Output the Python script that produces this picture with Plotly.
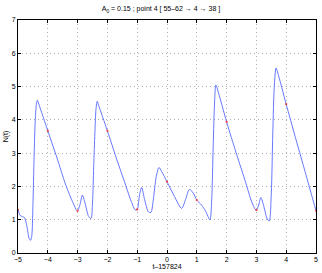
import plotly.graph_objects as go

# curve samples (t - 157824, N(t))
t_vals = [-5.0, -4.93, -4.85, -4.78, -4.7, -4.63, -4.58, -4.54, -4.5, -4.46, -4.42, -4.38, -4.35, -4.3,
          -4.0, -3.7, -3.4, -3.15, -3.03, -3.0, -2.92, -2.84, -2.75, -2.63, -2.55, -2.5, -2.46, -2.42,
          -2.38, -2.34, -2.3, -2.0, -1.7, -1.45, -1.2, -1.06, -1.0, -0.92, -0.85, -0.75, -0.62, -0.54,
          -0.46, -0.36, -0.27, -0.18, 0.0, 0.25, 0.49, 0.62, 0.75, 0.88, 1.0, 1.16, 1.3, 1.44, 1.5,
          1.55, 1.6, 1.64, 1.7, 2.0, 2.32, 2.65, 2.84, 2.97, 3.0, 3.08, 3.15, 3.25, 3.35, 3.43, 3.5,
          3.55, 3.6, 3.66, 3.72, 4.0, 4.3, 4.6, 4.85, 5.0]
n_vals = [1.3, 1.13, 1.09, 1.06, 0.8, 0.45, 0.38, 0.5, 1.4, 2.9, 4.0, 4.5, 4.59, 4.47,
          3.67, 2.88, 2.05, 1.5, 1.28, 1.27, 1.45, 1.74, 1.5, 1.1, 1.04, 1.5, 2.6, 3.6,
          4.35, 4.56, 4.45, 3.67, 2.85, 2.2, 1.55, 1.29, 1.31, 1.75, 1.97, 1.6, 1.23, 1.22,
          1.6, 2.3, 2.57, 2.45, 2.14, 1.7, 1.34, 1.6, 1.91, 1.8, 1.59, 1.44, 1.25, 1.0, 1.6,
          3.2, 4.6, 5.05, 4.9, 3.94, 3.01, 2.09, 1.54, 1.3, 1.29, 1.45, 1.67, 1.4, 1.05, 0.96, 1.8,
          3.6, 5.0, 5.56, 5.4, 4.47, 3.5, 2.55, 1.75, 1.27]

# red markers at integer times
mark_t = [-5, -4, -3, -2, -1, 0, 1, 2, 3, 4, 5]
mark_n = [1.3, 3.67, 1.27, 3.67, 1.31, 2.14, 1.59, 3.94, 1.29, 4.47, 1.27]

x_ticks = [-5, -4, -3, -2, -1, 0, 1, 2, 3, 4, 5]
y_ticks = [0, 1, 2, 3, 4, 5, 6, 7]

FONT = "Liberation Sans"

fig = go.Figure()
fig.add_trace(go.Scatter(x=t_vals, y=n_vals, mode="lines",
                         line=dict(color="rgb(85,105,255)", width=0.9, shape="spline", smoothing=0.8),
                         hoverinfo="skip", cliponaxis=False))
fig.add_trace(go.Scatter(x=mark_t, y=mark_n, mode="markers",
                         marker=dict(color="rgb(255,60,60)", size=2.2), hoverinfo="skip",
                         cliponaxis=False))

axis_common = dict(showline=True, linecolor="black", linewidth=1, mirror="ticks",
                   ticks="inside", ticklen=3, tickcolor="black", automargin=False,
                   showgrid=True, gridcolor="rgb(175,175,175)", griddash="1px,3px", gridwidth=0.8,
                   zeroline=False, tickfont=dict(size=7, color="black", family=FONT))

fig.update_layout(
    width=322, height=273,
    margin=dict(l=18, r=6, t=20, b=20),
    paper_bgcolor="white", plot_bgcolor="white",
    showlegend=False,
    title=dict(text="A<sub>0</sub> = 0.15 ; point 4 [ 55–62 → 4 → 38 ]",
               x=0.5, xanchor="center", y=0.967, yanchor="middle",
               font=dict(size=7, color="black", family=FONT)),
    xaxis=dict(range=[-5, 5], tickvals=x_ticks, **axis_common,
               title=dict(text="t–157824", standoff=1,
                          font=dict(size=7, color="black", family=FONT))),
    yaxis=dict(range=[0, 7], tickvals=y_ticks, **axis_common,
               title=dict(text="N(t)", standoff=2,
                          font=dict(size=7, color="black", family=FONT))),
)

fig.write_html("out.html", config={"displayModeBar": False},
               post_script="document.body.style.margin='0';")
